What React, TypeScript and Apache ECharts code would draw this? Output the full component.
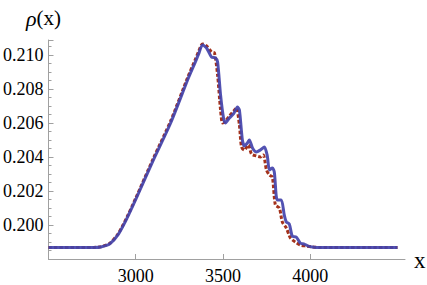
import React, { useEffect, useRef } from "react";
import * as echarts from "echarts";

// Blue (solid) curve samples
const blueX = [2500, 2760, 2800, 2850, 2900, 2950, 3000, 3100, 3200, 3300, 3340, 3360, 3383, 3406, 3434, 3457, 3469, 3486, 3503, 3514, 3537, 3560, 3583, 3594, 3611, 3623, 3640, 3651, 3669, 3691, 3714, 3737, 3754, 3766, 3783, 3794, 3811, 3834, 3851, 3863, 3880, 3897, 3920, 3943, 3966, 3989, 4011, 4057, 4500];
const blueY = [0.19868, 0.19868, 0.19871, 0.19888, 0.19945, 0.2004, 0.2015, 0.2038, 0.206, 0.2086, 0.20955, 0.21005, 0.21059, 0.21041, 0.20988, 0.20982, 0.20959, 0.20765, 0.20629, 0.206, 0.20629, 0.20653, 0.20694, 0.20676, 0.205, 0.20465, 0.20482, 0.205, 0.20453, 0.20429, 0.20441, 0.20459, 0.20406, 0.20324, 0.20335, 0.20312, 0.20147, 0.20147, 0.20059, 0.20018, 0.20006, 0.19935, 0.19929, 0.19894, 0.19888, 0.19876, 0.19871, 0.19868, 0.19868];

// Red (dashed) curve samples
const redX = [2500, 2760, 2800, 2850, 2900, 2950, 3000, 3100, 3200, 3300, 3340, 3360, 3383, 3406, 3434, 3451, 3469, 3486, 3497, 3509, 3537, 3566, 3577, 3594, 3606, 3623, 3646, 3663, 3691, 3714, 3731, 3749, 3766, 3783, 3800, 3823, 3840, 3863, 3886, 3914, 3943, 3977, 4011, 4057, 4500];
const redY = [0.19868, 0.19868, 0.19872, 0.19891, 0.1995, 0.20047, 0.20158, 0.2039, 0.20612, 0.20874, 0.2097, 0.2102, 0.21065, 0.21053, 0.21018, 0.21012, 0.20882, 0.20676, 0.206, 0.20606, 0.20641, 0.20676, 0.20688, 0.20588, 0.20459, 0.20441, 0.20471, 0.20418, 0.20406, 0.204, 0.20412, 0.20324, 0.20294, 0.20282, 0.20118, 0.201, 0.20018, 0.19982, 0.19924, 0.199, 0.19882, 0.19876, 0.19871, 0.19868, 0.19868];

const xTicks = [3000, 3500, 4000];
const yTicks = [0.2, 0.202, 0.204, 0.206, 0.208, 0.21];

export default function App() {
  const ref = useRef<HTMLDivElement>(null);
  useEffect(() => {
    if (!ref.current) return;
    const chart = echarts.init(ref.current, null, { renderer: "svg" });
    const font = "'Liberation Serif', 'DejaVu Serif', serif";
    const axisColor = "#a0a0a0";
    chart.setOption({
      animation: false,
      grid: { left: 48, right: 22, top: 40, bottom: 26 },
      xAxis: {
        type: "value",
        min: 2500,
        max: 4543,
        interval: 500,
        axisLine: { show: true, onZero: false, lineStyle: { color: axisColor, width: 1 } },
        axisTick: { show: true, inside: true, length: 5, customValues: xTicks, lineStyle: { color: axisColor } },
        axisLabel: {
          customValues: xTicks,
          color: "#000",
          fontFamily: font,
          fontSize: 18,
          margin: 8,
          formatter: (v: number) => String(Math.round(v)),
        },
        splitLine: { show: false },
      },
      yAxis: {
        type: "value",
        min: 0.198,
        max: 0.21088,
        interval: 0.002,
        axisLine: { show: true, onZero: false, lineStyle: { color: axisColor, width: 1 } },
        axisTick: { show: true, inside: true, length: 5, lineStyle: { color: axisColor } },
        minorTick: { show: true, splitNumber: 4, length: 3, lineStyle: { color: axisColor } },
        axisLabel: {
          color: "#000",
          fontFamily: font,
          fontSize: 18,
          margin: 5,
          formatter: (v: number) => {
            const ok = yTicks.some((t) => Math.abs(t - v) < 1e-7);
            return ok ? v.toFixed(3) : "";
          },
        },
        splitLine: { show: false },
      },
      graphic: [
        {
          type: "text",
          left: 26,
          top: 7,
          style: {
            text: "{i|ρ}(x)",
            fontFamily: font,
            fontSize: 21,
            fill: "#000",
            rich: { i: { fontStyle: "italic", fontFamily: font, fontSize: 22 } },
          },
        },
        {
          type: "text",
          left: 414,
          top: 249,
          style: { text: "x", fontFamily: font, fontSize: 23, fill: "#000" },
        },
      ],
      series: [
        {
          type: "line",
          data: redX.map((x, i) => [x, redY[i]]),
          showSymbol: false,
          smooth: 0.25,
          lineStyle: { color: "#a3321c", width: 3, type: [3.5, 2] },
          z: 2,
        },
        {
          type: "line",
          data: blueX.map((x, i) => [x, blueY[i]]),
          showSymbol: false,
          smooth: 0.25,
          lineStyle: { color: "#4343ab", width: 3, opacity: 0.92 },
          z: 3,
        },
      ],
    });
    return () => chart.dispose();
  }, []);
  return <div ref={ref} style={{ width: 427, height: 285, position: "absolute", left: 0, top: 0 }} />;
}
